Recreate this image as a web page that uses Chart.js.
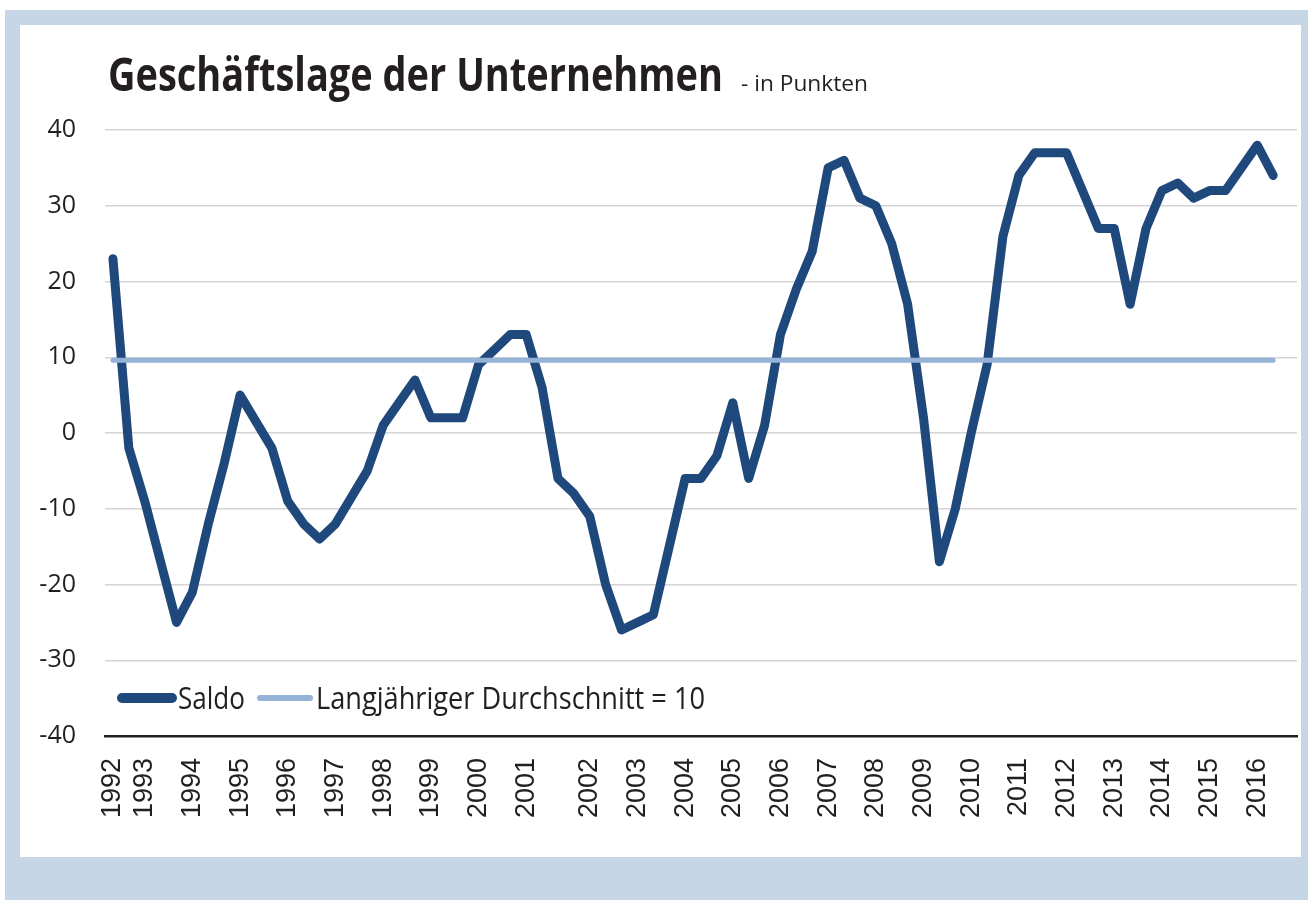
<!DOCTYPE html>
<html lang="de">
<head>
<meta charset="utf-8">
<title>Geschäftslage der Unternehmen</title>
<script src="https://cdn.jsdelivr.net/npm/chart.js@4.4.1/dist/chart.umd.min.js"></script>
<style>
  html, body { margin: 0; padding: 0; background: #ffffff; }
  #frame { position: absolute; left: 5px; top: 10px; width: 1303px; height: 890px; background: #c7d6e6; }
  #panel { position: absolute; left: 20px; top: 25px; width: 1281px; height: 832px; background: #ffffff; }
  #chart { position: absolute; left: 0; top: 0; }
</style>
</head>
<body>
<div id="frame"></div>
<div id="panel"></div>
<canvas id="chart" width="1308" height="900"></canvas>
<script>
// Survey years and number of surveys drawn per year
const years = [1992, 1993, 1994, 1995, 1996, 1997, 1998, 1999, 2000, 2001, 2002, 2003, 2004,
  2005, 2006, 2007, 2008, 2009, 2010, 2011, 2012, 2013, 2014, 2015, 2016];
const surveysPerYear = [2, 3, 3, 3, 3, 3, 3, 3, 3, 4, 3, 3, 3, 3, 3, 3, 3, 3, 3, 3, 3, 3, 3, 3, 2];

// Saldo, in Punkten (one value per survey)
const saldo = [
  23, -2, -9, -17, -25, -21, -12, -4, 5, 1.5, -2, -9, -12, -14, -12, -8.5, -5, 1, 4, 7,
  2, 2, 2, 9, 11, 13, 13, 6, -6, -8, -11, -20, -26, -25, -24, -15, -6, -6, -3, 4,
  -6, 1, 13, 19, 24, 35, 36, 31, 30, 25, 17, 2, -17, -10, 0, 9, 26, 34, 37, 37,
  37, 32, 27, 27, 17, 27, 32, 33, 31, 32, 32, 35, 38, 34
];

// Long-term average, as drawn
const average = 9.6;

const yTicks = { min: -40, max: 40, step: 10 };

const titleText = 'Geschäftslage der Unternehmen';
const subtitleText = '- in Punkten';
const seriesNames = ['Saldo', 'Langjähriger Durchschnitt = 10'];

const darkBlue = '#1f497d';
const lightBlue = '#95b3d7';

// category labels like "1992/1"; a blank slot at the end leaves room on the right
const labels = [];
years.forEach((y, i) => {
  for (let k = 1; k <= surveysPerYear[i]; k++) labels.push(y + '/' + k);
});
labels.push('');

function drawFitted(ctx, text, x, y, width) {
  const w = ctx.measureText(text).width;
  ctx.save();
  ctx.translate(x, y);
  ctx.scale(width / w, 1);
  ctx.fillText(text, 0, 0);
  ctx.restore();
}

// title and in-plot legend
const textPlugin = {
  id: 'textPlugin',
  afterDraw(chart) {
    const ctx = chart.ctx;
    ctx.save();
    ctx.fillStyle = '#231f20';
    ctx.textBaseline = 'alphabetic';
    ctx.textAlign = 'left';
    ctx.font = 'bold 47px "Open Sans"';
    drawFitted(ctx, titleText, 108, 91, 615);
    ctx.font = '22px "Open Sans"';
    drawFitted(ctx, subtitleText, 741, 91, 127);

    const ds = chart.data.datasets;
    const y = 698;
    const items = [
      { x0: 122, x1: 172, tx: 178, tw: 67 },
      { x0: 260, x1: 310, tx: 316, tw: 389 }
    ];
    items.forEach((it, i) => {
      ctx.beginPath();
      ctx.strokeStyle = ds[i].borderColor;
      ctx.lineWidth = ds[i].borderWidth + 1;
      ctx.lineCap = 'round';
      ctx.moveTo(it.x0, y);
      ctx.lineTo(it.x1, y);
      ctx.stroke();
      ctx.font = '31px "Open Sans"';
      ctx.fillStyle = '#231f20';
      drawFitted(ctx, ds[i].label, it.tx, 709, it.tw);
    });
    ctx.restore();
  }
};

new Chart(document.getElementById('chart'), {
  type: 'line',
  data: {
    labels: labels,
    datasets: [
      {
        label: seriesNames[0],
        data: saldo,
        borderColor: darkBlue,
        borderWidth: 9,
        borderCapStyle: 'round',
        borderJoinStyle: 'round',
        pointRadius: 0,
        tension: 0,
        fill: false,
        order: 2
      },
      {
        label: seriesNames[1],
        data: [{ x: labels[0], y: average }, { x: labels[saldo.length - 1], y: average }],
        borderColor: lightBlue,
        borderWidth: 5,
        borderCapStyle: 'round',
        pointRadius: 0,
        fill: false,
        order: 1
      }
    ]
  },
  options: {
    responsive: false,
    animation: false,
    devicePixelRatio: 1,
    layout: { padding: { top: 130, right: 11, left: 0, bottom: 0 } },
    plugins: {
      legend: { display: false },
      title: { display: false },
      tooltip: { enabled: false }
    },
    scales: {
      x: {
        type: 'category',
        offset: true,
        grid: { display: false, drawTicks: false },
        border: { display: true, color: '#231f20', width: 2.5 },
        afterFit: scale => {
          scale.height = 164;
          scale.paddingLeft = 0;
          scale.paddingRight = 0;
        },
        ticks: {
          autoSkip: false,
          minRotation: 90,
          maxRotation: 90,
          padding: 22,
          color: '#231f20',
          font: { family: '"Liberation Sans", Arial, sans-serif', size: 27 },
          callback: function (value) {
            const lab = this.getLabelForValue(value);
            return lab.endsWith('/1') ? lab.split('/')[0] : '';
          }
        }
      },
      y: {
        min: yTicks.min,
        max: yTicks.max,
        afterFit: scale => { scale.width = 105; },
        grid: { color: '#d4d4d4', lineWidth: 1.5, drawTicks: false },
        border: { display: false },
        ticks: {
          stepSize: yTicks.step,
          padding: 29,
          color: '#231f20',
          font: { family: '"Open Sans", sans-serif', size: 25 }
        }
      }
    }
  },
  plugins: [textPlugin]
});
</script>
</body>
</html>
